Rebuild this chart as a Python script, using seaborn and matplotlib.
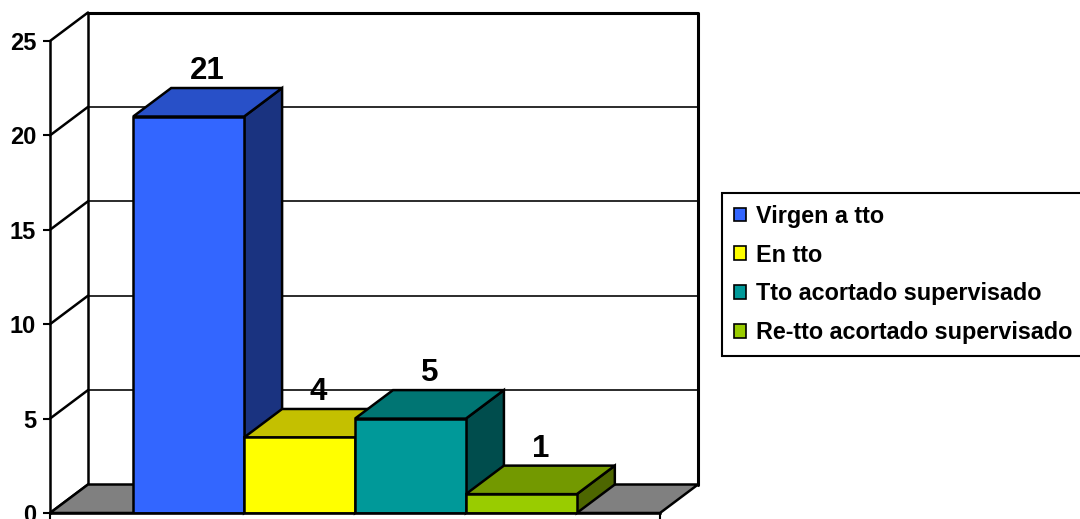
import matplotlib
matplotlib.use("Agg")
import matplotlib.pyplot as plt
from matplotlib.patches import Polygon, Patch, Rectangle
from matplotlib.lines import Line2D
import seaborn as sns
import pandas as pd

# ---- data ----
series = ["Virgen a tto", "En tto", "Tto acortado supervisado", "Re-tto acortado supervisado"]
values = [21, 4, 5, 1]
front_colors = ["#3366FF", "#FFFF00", "#009999", "#99CC00"]
top_colors = ["#2850C8", "#C4C000", "#007573", "#739900"]
side_colors = ["#1A3380", "#808000", "#004D4D", "#4D6600"]
y_ticks = [0, 5, 10, 15, 20, 25]

sns.set_theme(style="white")
plt.rcParams["font.family"] = ["Liberation Sans", "DejaVu Sans"]
plt.rcParams["font.weight"] = "bold"
plt.rcParams["text.color"] = "black"
plt.rcParams["ytick.labelcolor"] = "black"
plt.rcParams["ytick.color"] = "black"
plt.rcParams["xtick.color"] = "black"

W, H, DPI = 1080, 519, 100
fig = plt.figure(figsize=(W / DPI, H / DPI), dpi=DPI)
fig.patch.set_facecolor("white")

# front plane of the chart box (pixels)
left_px, right_px, base_px, top_px = 50, 660, 513, 41
ax = fig.add_axes([left_px / W, 1 - base_px / H,
                   (right_px - left_px) / W, (base_px - top_px) / H])

df = pd.DataFrame({"grupo": [""] * len(series), "serie": series, "n": values})
sns.barplot(data=df, x="grupo", y="n", hue="serie", hue_order=series,
            palette=front_colors, saturation=1, width=0.8,
            edgecolor="black", linewidth=1.8, legend=False, ax=ax)
bars = sorted([p for p in ax.patches if isinstance(p, Rectangle)], key=lambda p: p.get_x())

x0, x1 = -0.55, 0.55
y0, y1 = 0, y_ticks[-1]
ax.set_xlim(x0, x1)
ax.set_ylim(y0, y1)
ax.set_xlabel("")
ax.set_ylabel("")

# depth of the 3D box, converted from pixels to data units
depth_dx_px, depth_dy_px = 38, 28.5
ddx = depth_dx_px * (x1 - x0) / (right_px - left_px)
ddy = depth_dy_px * (y1 - y0) / (base_px - top_px)

lw = 1.8
# back wall
ax.add_patch(Polygon([(x0 + ddx, y0 + ddy), (x1 + ddx, y0 + ddy),
                      (x1 + ddx, y1 + ddy), (x0 + ddx, y1 + ddy)],
                     closed=True, facecolor="white", edgecolor="none",
                     zorder=0.5, clip_on=False))
for v in y_ticks[1:-1]:
    ax.add_line(Line2D([x0 + ddx, x1 + ddx], [v + ddy, v + ddy], color="#1a1a1a",
                       lw=1.3, zorder=0.7, clip_on=False))
# back wall frame
ax.add_line(Line2D([x0 + ddx, x1 + ddx, x1 + ddx], [y1 + ddy, y1 + ddy, y0 + ddy],
                   color="black", lw=2.2, zorder=0.8, clip_on=False))
ax.add_line(Line2D([x0 + ddx, x0 + ddx], [y0 + ddy, y1 + ddy],
                   color="black", lw=lw, zorder=0.8, clip_on=False))
# left wall diagonals
for v in y_ticks:
    ax.add_line(Line2D([x0, x0 + ddx], [v, v + ddy], color="black",
                       lw=lw, zorder=0.8, clip_on=False))
# floor
ax.add_patch(Polygon([(x0, y0), (x1, y0), (x1 + ddx, y0 + ddy), (x0 + ddx, y0 + ddy)],
                     closed=True, facecolor="#808080", edgecolor="black",
                     lw=lw, zorder=0.9, clip_on=False))

# extrude each bar: side and top faces behind the front face
for i, (bar, v) in enumerate(zip(bars, values)):
    bx, bw, bh = bar.get_x(), bar.get_width(), bar.get_height()
    bar.set_zorder(3 + 2 * i)
    side = Polygon([(bx + bw, 0), (bx + bw + ddx, ddy), (bx + bw + ddx, bh + ddy), (bx + bw, bh)],
                   closed=True, facecolor=side_colors[i], edgecolor="black",
                   lw=lw, zorder=2 + 2 * i, clip_on=False)
    top = Polygon([(bx, bh), (bx + bw, bh), (bx + bw + ddx, bh + ddy), (bx + ddx, bh + ddy)],
                  closed=True, facecolor=top_colors[i], edgecolor="black",
                  lw=lw, zorder=2 + 2 * i, clip_on=False)
    ax.add_patch(side)
    ax.add_patch(top)
    ax.annotate(str(v), xy=(bx + bw / 2 + ddx / 2, bh + ddy), xytext=(0, 9),
                textcoords="offset pixels", ha="center", va="baseline",
                fontsize=22.5, fontweight="bold", color="black",
                annotation_clip=False, zorder=20)

# axes frame and ticks
for s in ["top", "right"]:
    ax.spines[s].set_visible(False)
for s in ["left", "bottom"]:
    ax.spines[s].set_visible(True)
    ax.spines[s].set_color("black")
    ax.spines[s].set_linewidth(lw)
    ax.spines[s].set_zorder(15)
ax.set_yticks(y_ticks)
ax.set_yticklabels([str(t) for t in y_ticks], fontsize=17, fontweight="bold", color="black")
ax.set_xticks([x0, x1])
ax.set_xticklabels(["", ""])
ax.tick_params(axis="y", left=True, length=5, width=1.5, color="black", pad=5)
ax.tick_params(axis="x", bottom=True, length=6, width=1.5, color="black")
ax.set_facecolor("white")

# legend
handles = [Patch(facecolor=c, edgecolor="black", linewidth=1.2) for c in front_colors]
leg = fig.legend(handles, series, loc="upper left",
                 bbox_to_anchor=(722 / W, 1 - 193 / H), bbox_transform=fig.transFigure,
                 frameon=True, fancybox=False, framealpha=1, edgecolor="black",
                 prop={"size": 16.8, "weight": "bold"}, labelcolor="black",
                 handlelength=0.52, handleheight=0.52, handletextpad=0.42,
                 borderpad=0.5, labelspacing=0.68, borderaxespad=0)
leg.get_frame().set_linewidth(1.5)

fig.savefig("out.png", dpi=DPI)
